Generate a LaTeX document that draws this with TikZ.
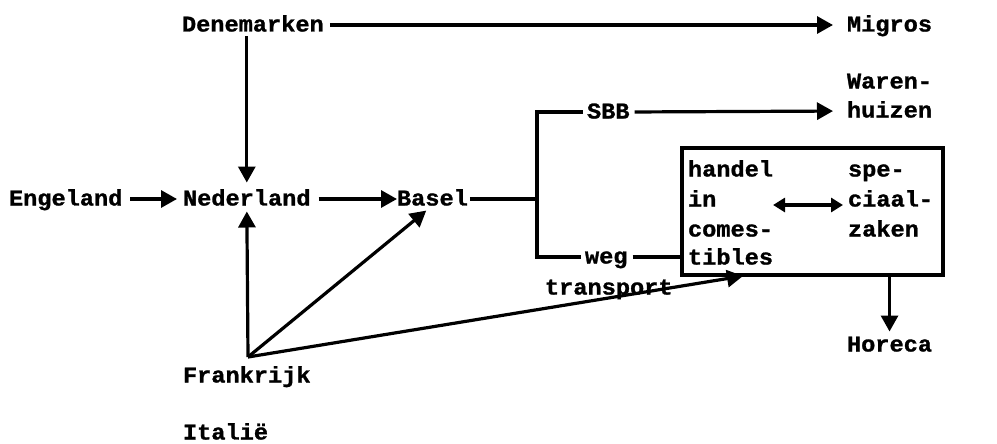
\documentclass[tikz,border=0pt]{standalone}
\usepackage{fontspec}
\newfontfamily\tw{Liberation Mono}[FakeStretch=1.05, BoldFeatures={FakeBold=1.2}]
\usetikzlibrary{arrows.meta}
\tikzset{
  lbl/.style={inner sep=0pt, outer sep=0pt, anchor=west, text height=13pt, text depth=0pt,
    font=\tw\bfseries\fontsize{22.5}{26}\selectfont},
  conn/.style={line width=3.2pt},
  arr/.style={conn, -{Triangle[length=16pt,width=17pt]}},
  dbl/.style={conn, {Triangle[length=12pt,width=14pt]}-{Triangle[length=12pt,width=14pt]}},
}
\begin{document}
\begin{tikzpicture}[x=1pt,y=-1pt]
\useasboundingbox (0,0) rectangle (997,444);
% nodes
\node[lbl] (den) at (182,25) {Denemarken};
\node[lbl] (mig) at (847,25) {Migros};
\node[lbl] (eng) at (9,199) {Engeland};
\node[lbl] (ned) at (183,199) {Nederland};
\node[lbl] (bas) at (397,199) {Basel};
\node[lbl] (sbb) at (587,112) {SBB};
\node[lbl] (war1) at (847,82) {Waren-};
\node[lbl] (war2) at (847,111) {huizen};
\node[lbl] (weg) at (585,257) {weg};
\node[lbl] (tra) at (545,288) {transport};
\node[lbl] (fra) at (183,376) {Frankrijk};
\node[lbl] (ita) at (183,433) {Itali\"e};
\node[lbl] (hor) at (847,345) {Horeca};
\node[draw, line width=3.2pt, inner sep=0pt, outer sep=0pt, anchor=north west,
      minimum width=261pt, minimum height=127pt] (box) at (682,148) {};
\node[lbl] (h1) at (688,170) {handel};
\node[lbl] (h2) at (688,200) {in};
\node[lbl] (h3) at (688,230) {comes-};
\node[lbl] (h4) at (688,258) {tibles};
\node[lbl] (s1) at (848,170) {spe-};
\node[lbl] (s2) at (848,200) {ciaal-};
\node[lbl] (s3) at (848,230) {zaken};
% coordinates
\coordinate (jt) at (537,112);
\coordinate (jb) at (537,257);
\coordinate (fo) at (248,357);
\coordinate (tt) at (743,276);
% connectors
\draw[arr, shorten <=6pt, shorten >=14pt] (den.east) -- (mig.west);
\draw[arr, shorten <=5pt, shorten >=10pt] (den.south -| ned.north) -- (ned.north);
\draw[arr, shorten <=8pt, shorten >=6pt] (eng.east) -- (ned.west);
\draw[arr, shorten <=8pt, shorten >=0pt] (ned.east) -- (bas.west);
\draw[conn, shorten <=2pt] (bas.east) -- (bas.east -| jt);
\draw[conn, line cap=rect] (jt) -- (jb);
\draw[conn, shorten >=4pt] (jt) -- (sbb.west);
\draw[arr, shorten <=5pt, shorten >=14pt] (sbb.east) -- (war2.west);
\draw[conn, shorten >=4pt] (jb) -- (weg.west);
\draw[conn, shorten <=5pt] (weg.east) -- (weg.east -| box.west);
\draw[arr, shorten >=6pt] (fo) -- (ned.south);
\draw[arr, shorten >=8pt] (fo) -- (bas.south);
\draw[arr] (fo) -- (tt);
\draw[arr, shorten >=7pt] (box.south -| hor.north) -- (hor.north);
\draw[dbl, shorten >=5pt, transform canvas={yshift=-5pt}] (h3.east |- s2.west) -- (s2.west);
\end{tikzpicture}
\end{document}
